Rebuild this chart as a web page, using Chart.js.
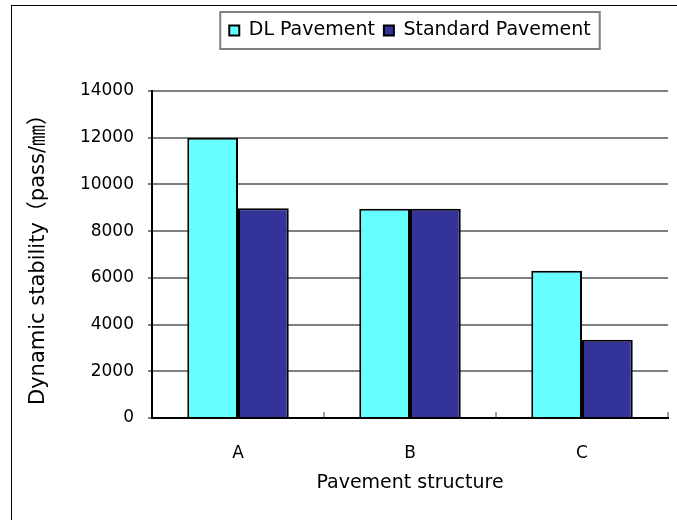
<!DOCTYPE html>
<html>
<head>
<meta charset="utf-8">
<script src="https://cdn.jsdelivr.net/npm/chart.js@4"></script>
<style>
  html, body { margin: 0; padding: 0; background: #fff; overflow: hidden; }
  #frame { position: absolute; left: 11px; top: 5px; width: 700px; height: 560px; border: 1px solid #000; }
  #wrap { position: absolute; left: 0; top: 0; width: 677px; height: 520px; }
</style>
</head>
<body>
<div id="frame"></div>
<div id="wrap"><canvas id="chart" width="677" height="520"></canvas></div>
<script>
// Datos
const categories = ['A', 'B', 'C'];
const dlPavement = [12000, 8960, 6300];
const standardPavement = [8980, 8960, 3350];
const yMin = 0;
const yMax = 14000;
const yStep = 2000;

const fontFamily = "'DejaVu Sans', 'Noto Sans CJK JP', sans-serif";
const gray = '#808080';

// Leyenda: altura fija, centrada sobre el área del gráfico, con marco gris
const legendBoxPlugin = {
    id: 'legendBox',
    beforeLayout(chart) {
        const legend = chart.legend;
        if (legend && !legend._patched) {
            const fit = legend.fit;
            legend.fit = function() {
                fit.call(this);
                this.height = 79;
            };
            legend._patched = true;
        }
    },
    afterLayout(chart) {
        const legend = chart.legend;
        legend.left = chart.chartArea.left;
        legend.right = chart.chartArea.right;
        legend.width = legend.right - legend.left;
    },
    afterDraw(chart) {
        const boxes = chart.legend.legendHitBoxes;
        if (!boxes || !boxes.length) return;
        const pad = 9;
        const left = Math.min(...boxes.map(b => b.left)) - pad;
        const right = Math.max(...boxes.map(b => b.left + b.width)) + pad;
        const top = Math.min(...boxes.map(b => b.top)) - pad;
        const bottom = Math.max(...boxes.map(b => b.top + b.height)) + pad;
        const ctx = chart.ctx;
        ctx.save();
        ctx.strokeStyle = gray;
        ctx.lineWidth = 2;
        ctx.strokeRect(left, top, right - left, bottom - top);
        ctx.restore();
    }
};

const ctx = document.getElementById('chart').getContext('2d');
new Chart(ctx, {
    type: 'bar',
    data: {
        labels: categories,
        datasets: [{
            label: 'DL Pavement',
            data: dlPavement,
            backgroundColor: '#66FFFF',
            borderColor: '#000',
            borderWidth: 2
        }, {
            label: 'Standard Pavement',
            data: standardPavement,
            backgroundColor: '#333399',
            borderColor: '#000',
            borderWidth: 2
        }]
    },
    options: {
        responsive: false,
        animation: false,
        devicePixelRatio: 1,
        categoryPercentage: 0.59,
        barPercentage: 1,
        layout: { padding: { left: 20, top: 12, right: 9, bottom: 0 } },
        plugins: {
            legend: {
                position: 'top',
                labels: {
                    boxWidth: 10,
                    boxHeight: 10,
                    padding: 9,
                    color: '#000',
                    font: { family: fontFamily, size: 19 }
                }
            },
            tooltip: { enabled: false }
        },
        scales: {
            x: {
                afterFit: (scale) => { scale.height = 102; },
                grid: {
                    offset: true,
                    drawOnChartArea: true,
                    color: (c) => c.index === categories.length ? gray : 'rgba(0,0,0,0)',
                    lineWidth: 2,
                    tickLength: -6,
                    tickColor: '#444',
                    tickWidth: 1
                },
                border: { color: '#000', width: 2 },
                ticks: {
                    color: '#000',
                    padding: 31,
                    font: { family: fontFamily, size: 17 }
                },
                title: {
                    display: true,
                    text: 'Pavement structure',
                    color: '#000',
                    padding: { top: 0, bottom: 26 },
                    font: { family: fontFamily, size: 19 }
                }
            },
            y: {
                min: yMin,
                max: yMax,
                afterFit: (scale) => { scale.width = 132; },
                grid: {
                    color: gray,
                    lineWidth: 2,
                    tickLength: 4,
                    tickColor: gray
                },
                border: { color: '#000', width: 2 },
                ticks: {
                    stepSize: yStep,
                    format: { useGrouping: false },
                    color: '#000',
                    padding: 14,
                    font: { family: fontFamily, size: 17 }
                },
                title: {
                    display: true,
                    text: 'Dynamic stability（pass/㎜）',
                    color: '#000',
                    padding: { top: 6, bottom: 0 },
                    font: { family: fontFamily, size: 21 }
                }
            }
        }
    },
    plugins: [legendBoxPlugin]
});
</script>
</body>
</html>
